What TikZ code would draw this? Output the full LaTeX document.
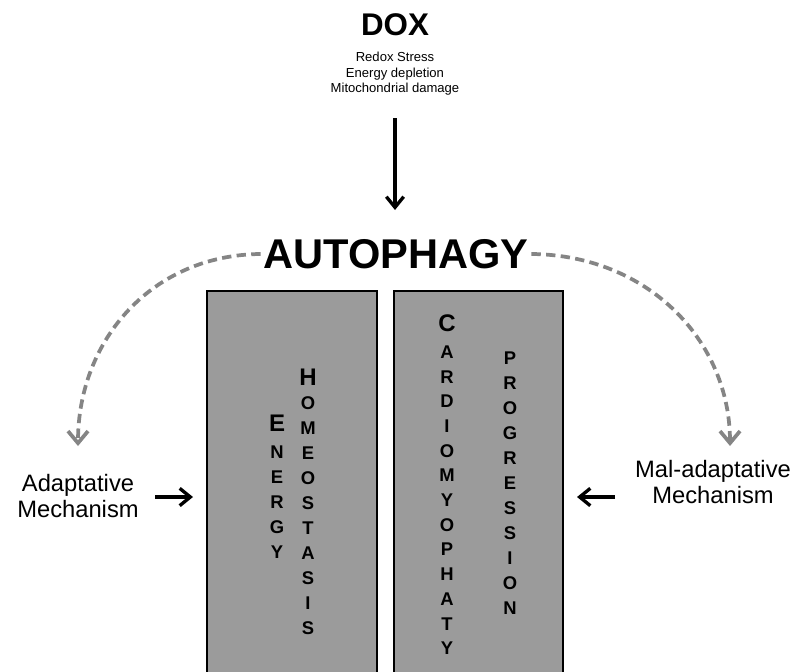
\documentclass[tikz,border=0pt]{standalone}
\usepackage{fontspec}
\setmainfont{Liberation Sans}
\usepackage{tikz}
\usetikzlibrary{arrows.meta}

\definecolor{boxgray}{HTML}{9B9B9B}
\definecolor{arcgray}{HTML}{858585}

\begin{document}
\begin{tikzpicture}[x=0.75pt,y=-0.75pt,
  title node/.style={font=\fontsize{23.5}{26}\selectfont\bfseries},
  sub node/.style={font=\fontsize{9.8}{11.6}\selectfont,align=center},
  big node/.style={font=\fontsize{31.2}{34}\selectfont\bfseries},
  side node/.style={font=\fontsize{17.8}{19.5}\selectfont,align=center},
  col box/.style={draw=black,line width=1.5pt,fill=boxgray},
  letter/.style={font=\fontsize{13.8}{14}\selectfont\bfseries,inner sep=0pt},
  first letter/.style={font=\fontsize{18}{19}\selectfont\bfseries,inner sep=0pt},
  main arrow/.style={draw=black,line width=2.5pt,-{Straight Barb[length=8pt,width=13pt]}},
  loop arrow/.style={draw=arcgray,line width=2.8pt,dash pattern=on 7pt off 4pt,-{Straight Barb[length=9pt,width=15pt]}}]

  \useasboundingbox (0,0) rectangle (795,671);
  \clip (0,0) rectangle (795,671);

  % top
  \node[title node] (dox) at (395,25) {DOX};
  \node[sub node] (stress) at (395,74) {Redox Stress\\Energy depletion\\Mitochondrial damage};
  \coordinate (arrtop) at (395,118);
  \coordinate (arrtip) at (395,210);
  \node[big node,inner sep=2pt] (auto) at (396,254) {AUTOPHAGY};
  \draw[main arrow] (arrtop) -- (arrtip);

  % the two columns
  \draw[col box] (207,291) rectangle (377,690);
  \draw[col box] (394,291) rectangle (563,690);

  \node[first letter] (ene-0) at (277,423) {E};
  \foreach \l [count=\i] in {N,E,R,G,Y}
    \node[letter] (ene-\i) at (277,{427+25*\i}) {\l};

  \node[first letter] (hom-0) at (308,377) {H};
  \foreach \l [count=\i] in {O,M,E,O,S,T,A,S,I,S}
    \node[letter] (hom-\i) at (308,{378+25*\i}) {\l};

  \node[first letter] (car-0) at (447,323) {C};
  \foreach \l [count=\i] in {A,R,D,I,O,M,Y,O,P,H,A,T,Y}
    \node[letter] (car-\i) at (447,{327.3+24.7*\i}) {\l};

  \foreach \l [count=\i from 0] in {P,R,O,G,R,E,S,S,I,O,N}
    \node[letter] (pro-\i) at (510,{358+25*\i}) {\l};

  % sides
  \node[side node] (adapt) at (78,496) {Adaptative\\Mechanism};
  \node[side node] (maladapt) at (713,482) {Mal-adaptative\\Mechanism};
  \coordinate (lbox) at (193,497);
  \coordinate (rbox) at (577,497);
  \draw[main arrow] (155,497) -- (lbox);
  \draw[main arrow] (615,497) -- (rbox);

  \draw[loop arrow] (auto.west) .. controls (152,255) and (78,340) .. (78,446);
  \draw[loop arrow] (auto.east) .. controls (647,255) and (730,340) .. (730,446);

\end{tikzpicture}
\end{document}
